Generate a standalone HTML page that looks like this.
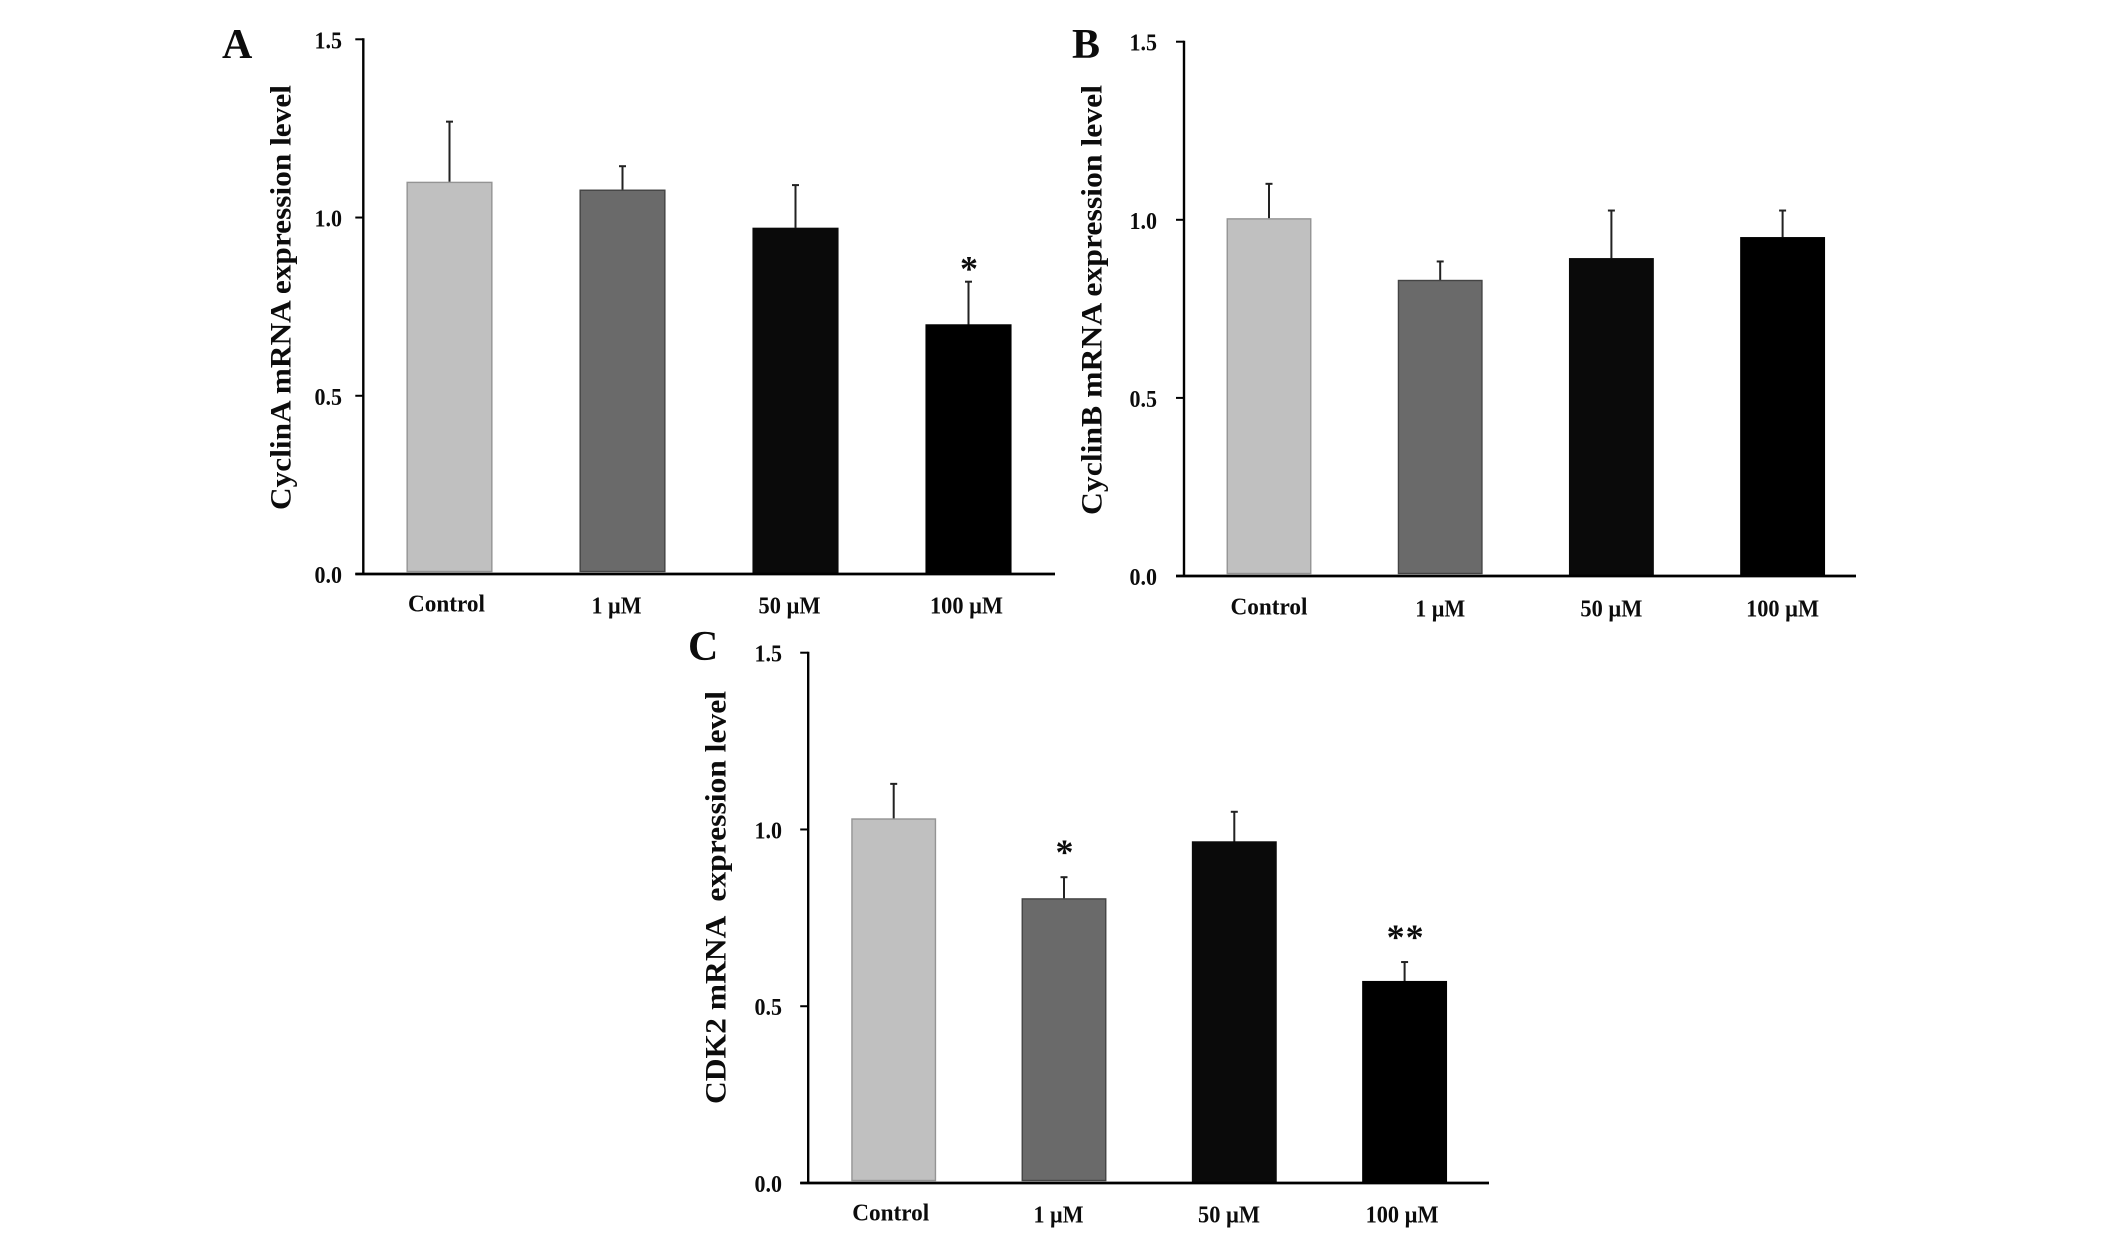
<!DOCTYPE html>
<html lang="en">
<head>
<meta charset="utf-8">
<title>Cyclin and CDK2 mRNA expression level charts</title>
<style>
  html, body { margin: 0; padding: 0; background: #fff; }
  svg { display: block; }
  text { font-family: "Liberation Serif", "Times New Roman", serif; font-weight: bold; fill: #0c0c0c; white-space: pre; }
</style>
</head>
<body>
<svg id="figure" xmlns="http://www.w3.org/2000/svg" width="2126" height="1237" viewBox="0 0 2126 1237">
  <rect x="0" y="0" width="2126" height="1237" fill="#ffffff"/>
</svg>
<script>
// ---- Chart data ----
const categories = ["Control", "1 µM", "50 µM", "100 µM"];
const yTickValues = [0, 0.5, 1.0, 1.5];
const yTickLabels = ["0.0", "0.5", "1.0", "1.5"];

const cyclinAValues = [1.10, 1.078, 0.971, 0.70];
const cyclinAErrors = [0.169, 0.066, 0.12, 0.12];
const cyclinASignificance = ["", "", "", "*"];

const cyclinBValues = [1.004, 0.831, 0.892, 0.951];
const cyclinBErrors = [0.097, 0.052, 0.134, 0.075];
const cyclinBSignificance = ["", "", "", ""];

const cdk2Values = [1.031, 0.805, 0.966, 0.571];
const cdk2Errors = [0.098, 0.06, 0.084, 0.054];
const cdk2Significance = ["", "*", "", "**"];

// ---- Layout (not data) ----
const yMax = 1.5;
const barFills = ["#c0c0c0", "#6a6a6a", "#0a0a0a", "#000000"];
const barEdges = ["#949494", "#444444", "#0a0a0a", "#000000"];
const labelWidths = [77, 50, 62, 73];

const panels = [
  { id: "a", letter: "A", letterX: 222, letterY: 58, title: "CyclinA mRNA expression level", values: cyclinAValues, errors: cyclinAErrors, sig: cyclinASignificance,
    axisX: 363.3, axisEnd: 1055, zeroY: 574, topY: 39.3, firstCenter: 449.5, step: 173, barWidth: 85.7,
    tickLabelRight: 342, titleX: 290.5, titleTop: 85, titleBottom: 510, labelBase: 613, labelNudge: [-3, -6, -6, -2], sigGap: 17 },
  { id: "b", letter: "B", letterX: 1072, letterY: 58, title: "CyclinB mRNA expression level", values: cyclinBValues, errors: cyclinBErrors, sig: cyclinBSignificance,
    axisX: 1184, axisEnd: 1856, zeroY: 576, topY: 41.7, firstCenter: 1269, step: 171.2, barWidth: 84.5,
    tickLabelRight: 1157, titleX: 1101.7, titleTop: 85, titleBottom: 515, labelBase: 616, labelNudge: [0, 0, 0, 0], sigGap: 17 },
  { id: "c", letter: "C", letterX: 688, letterY: 660, title: "CDK2 mRNA  expression level", values: cdk2Values, errors: cdk2Errors, sig: cdk2Significance,
    axisX: 808.2, axisEnd: 1489, zeroY: 1183, topY: 652.7, firstCenter: 893.7, step: 170.3, barWidth: 84.5,
    tickLabelRight: 782, titleX: 725.7, titleTop: 691, titleBottom: 1104, labelBase: 1222, labelNudge: [-3, -5.5, -5.3, -2.5], sigGap: 29 }
];

const NS = "http://www.w3.org/2000/svg";
const figure = document.getElementById("figure");

function create(parent, tag, attrs, content) {
  const el = document.createElementNS(NS, tag);
  for (const key in attrs) el.setAttribute(key, attrs[key]);
  if (content !== undefined) el.textContent = content;
  parent.appendChild(el);
  return el;
}

function slug(text) {
  return text.toLowerCase().replace(/[^a-z0-9]+/g, "-").replace(/^-|-$/g, "");
}

panels.forEach(function (p) {
  const yScale = function (v) { return p.zeroY - (v / yMax) * (p.zeroY - p.topY); };
  const xScale = function (i) { return p.firstCenter + i * p.step; };

  const g = create(figure, "g", {});
  
  

  const letter = create(g, "text", { x: p.letterX, y: p.letterY, "font-size": 42 }, p.letter);
  
  

  const titleLength = p.titleBottom - p.titleTop;
  const title = create(g, "text", {
    transform: "translate(" + p.titleX + "," + p.titleBottom + ") rotate(-90)",
    "font-size": 30, textLength: titleLength, lengthAdjust: "spacingAndGlyphs"
  }, p.title);
  
  

  // Bars and error bars
  p.values.forEach(function (value, i) {
    const cx = xScale(i);
    const topPx = yScale(value);
    const errPx = yScale(value + p.errors[i]);
    const bottomGap = i < 2 ? 2.5 : 0;

    const stem = create(g, "line", { x1: cx, x2: cx, y1: topPx, y2: errPx, stroke: "#222222", "stroke-width": 2 });
    
    

    const cap = create(g, "line", { x1: cx - 3.5, x2: cx + 3.5, y1: errPx, y2: errPx, stroke: "#222222", "stroke-width": 2 });
    
    

    const bar = create(g, "rect", {
      x: cx - p.barWidth / 2 + 0.5, y: topPx + 0.5,
      width: p.barWidth - 1, height: p.zeroY - topPx - bottomGap - 0.5,
      fill: barFills[i], stroke: barEdges[i], "stroke-width": 1.4
    });
    
    

    if (p.sig[i]) {
      const star = create(g, "text", {
        x: cx + 1, y: errPx - p.sigGap + 16,
        "font-size": 36, "text-anchor": "middle", "letter-spacing": 1
      }, p.sig[i]);
      
      
    }

    const label = create(g, "text", {
      x: cx + p.labelNudge[i], y: p.labelBase + (i === 0 ? -1.5 : 0.5),
      "font-size": 24, "text-anchor": "middle",
      textLength: labelWidths[i], lengthAdjust: "spacingAndGlyphs"
    }, categories[i]);
    
    
  });

  // Axes
  const yAxis = create(g, "line", { x1: p.axisX, x2: p.axisX, y1: p.topY - 1, y2: p.zeroY, stroke: "#000", "stroke-width": 2.4 });
  
  

  const xAxis = create(g, "line", { x1: p.axisX - 8, x2: p.axisEnd, y1: p.zeroY, y2: p.zeroY, stroke: "#000", "stroke-width": 2.8 });
  
  

  yTickValues.forEach(function (tv, i) {
    const ty = yScale(tv);
    const tick = create(g, "line", { x1: p.axisX - 8, x2: p.axisX, y1: ty, y2: ty, stroke: "#000", "stroke-width": 2 });
    
    

    const tickLabel = create(g, "text", {
      x: p.tickLabelRight, y: ty + 9, "font-size": 24, "text-anchor": "end",
      textLength: 27.5, lengthAdjust: "spacingAndGlyphs"
    }, yTickLabels[i]);
    
    
  });
});
</script>
</body>
</html>
